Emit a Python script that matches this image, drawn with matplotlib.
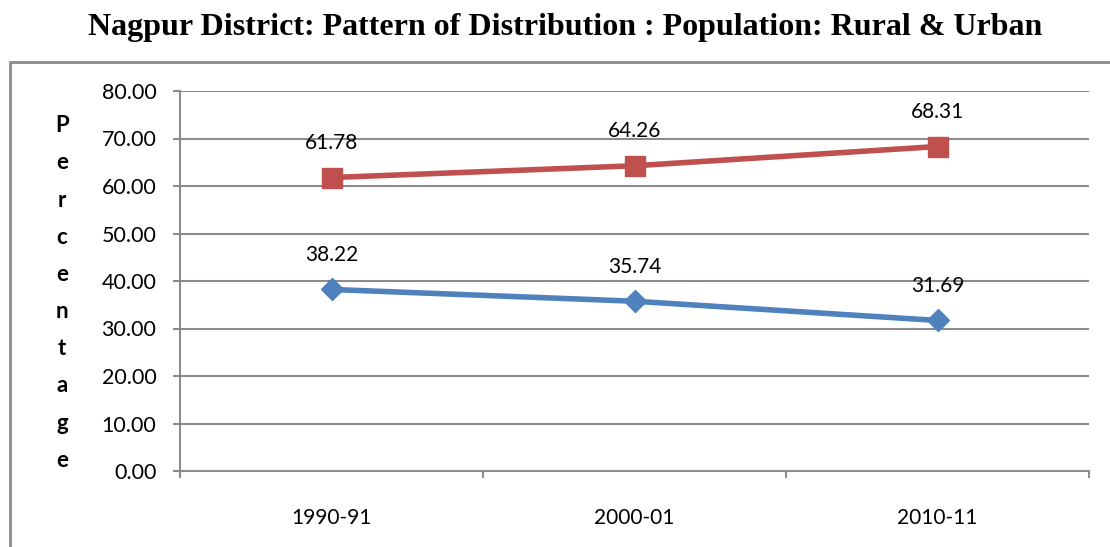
import matplotlib.pyplot as plt
from matplotlib.patches import Rectangle
from matplotlib.ticker import FixedLocator, FormatStrFormatter

years = ['1990-91', '2000-01', '2010-11']
rural = [61.78, 64.26, 68.31]
urban = [38.22, 35.74, 31.69]

W, H = 1110, 547
fig = plt.figure(figsize=(W / 100, H / 100), dpi=100)
ax = fig.add_axes([180 / W, 1 - 471 / H, (1089 - 180) / W, (471 - 91) / H])

# chart frame, cut off at right and bottom
fig.patches.append(Rectangle((10 / W, -0.1), 1.2, 0.1 + (1 - 62 / H),
                             transform=fig.transFigure, fill=False,
                             edgecolor='#8c8c8c', linewidth=2, clip_on=False))

x = range(len(years))
ax.plot(x, urban, color='#4F81BD', linewidth=4, marker='D', markersize=11,
        zorder=3)
ax.plot(x, rural, color='#C0504D', linewidth=4, marker='s', markersize=14,
        zorder=3)

font = 'Lato'
for xi, v in zip(x, urban):
    ax.annotate(f'{v:.2f}', (xi, v), xytext=(0, 25), textcoords='offset points',
                ha='center', va='center', fontsize=15, family=font)
for xi, v in zip(x, rural):
    ax.annotate(f'{v:.2f}', (xi, v), xytext=(0, 25), textcoords='offset points',
                ha='center', va='center', fontsize=15, family=font)

ax.set_xlim(-0.5, 2.5)
ax.set_ylim(0, 80)
ax.set_yticks(range(0, 81, 10))
ax.yaxis.set_major_formatter(FormatStrFormatter('%.2f'))
ax.set_xticks(list(x))
ax.set_xticklabels(years)
ax.xaxis.set_minor_locator(FixedLocator([-0.5, 0.5, 1.5, 2.5]))
ax.tick_params(axis='x', which='major', length=0, pad=27, labelsize=15)
ax.tick_params(axis='x', which='minor', length=5, width=1.5, color='#8c8c8c',
               direction='out')
ax.tick_params(axis='y', length=5, width=1.5, color='#8c8c8c', pad=12,
               labelsize=15.5)
for lab in ax.get_xticklabels() + ax.get_yticklabels():
    lab.set_family(font)

ax.grid(axis='y', color='#8c8c8c', linewidth=1.5)
ax.set_axisbelow(True)
for s in ['top', 'right']:
    ax.spines[s].set_visible(False)
for s in ['left', 'bottom']:
    ax.spines[s].set_color('#8c8c8c')
    ax.spines[s].set_linewidth(1.5)

fig.text(62 / W, 1 - 293 / H, '\n'.join('Percentage'), ha='center', va='center',
         fontsize=16, fontweight='bold', family=font, linespacing=1.95)

fig.text(565 / W, 1 - 28 / H,
         'Nagpur District: Pattern of Distribution : Population: Rural & Urban',
         ha='center', va='center', fontsize=23, fontweight='bold',
         family='Liberation Serif')

fig.savefig('out.png', dpi=100)
